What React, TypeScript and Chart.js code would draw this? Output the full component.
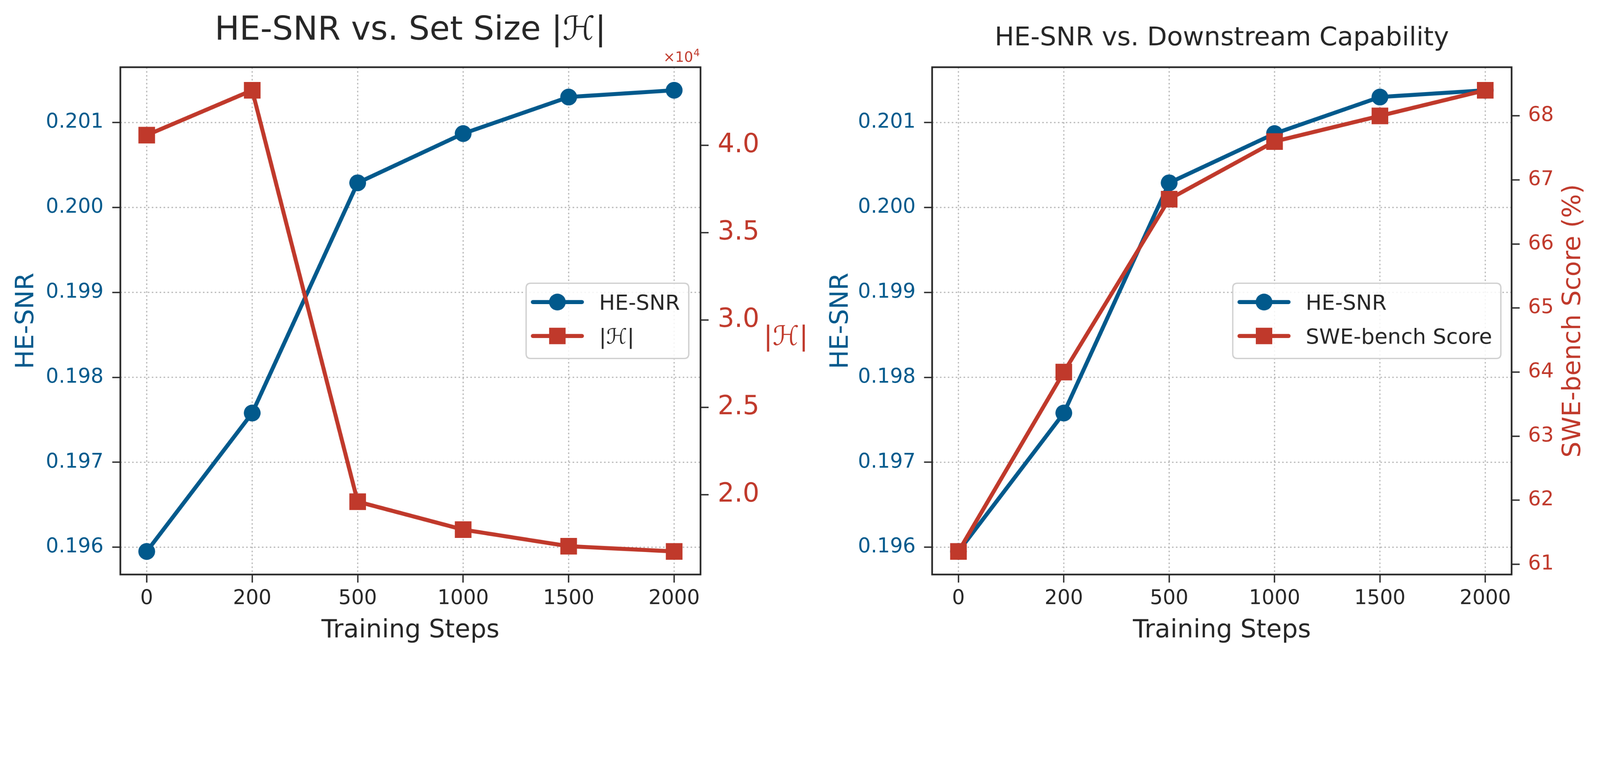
import React, { useEffect, useRef } from 'react';
import { Chart, registerables } from 'chart.js';

Chart.register(...registerables);

// ---------------- data ----------------
const steps = ['0', '200', '500', '1000', '1500', '2000'];
const heSnr = [0.19595, 0.19758, 0.20029, 0.20087, 0.2013, 0.20138];
const setSize = [40580, 43150, 19600, 18000, 17050, 16750];
const sweBench = [61.2, 64.0, 66.7, 67.6, 68.0, 68.4];

const heSnrTicks = [0.196, 0.197, 0.198, 0.199, 0.2, 0.201];
const setSizeTicks = [20000, 25000, 30000, 35000, 40000];
const sweTicks = [61, 62, 63, 64, 65, 66, 67, 68];

// ---------------- style ----------------
const BLUE = '#01598c';
const RED = '#c0392b';
const DARK = '#262626';
const GRID = '#b5b5b5';
const FAMILY = '"DejaVu Sans", "Noto Sans", sans-serif';
const f = (size: number, style = '') => `${style} ${size}px ${FAMILY}`.trim();
const LINE_W = 12;

const PAGE_W = 4760;
const PAGE_H = 1952;

const padRange = (vals: number[]) => {
  const lo = Math.min(...vals);
  const hi = Math.max(...vals);
  const r = hi - lo;
  return { min: lo - 0.05 * r, max: hi + 0.05 * r };
};

const toXY = (vals: number[]) => vals.map((v, i) => ({ x: i, y: v }));

function lineDataset(label: string, vals: number[], axis: string, color: string, style: string, order: number) {
  const r = style === 'rect' ? 35 : 25;
  return {
    label,
    data: toXY(vals),
    yAxisID: axis,
    borderColor: color,
    backgroundColor: color,
    borderWidth: LINE_W,
    borderCapStyle: 'round',
    borderJoinStyle: 'round',
    pointStyle: style,
    pointRadius: r,
    pointHoverRadius: r,
    pointBorderWidth: 0,
    pointBackgroundColor: color,
    tension: 0,
    order,
  };
}

function tickGrid() {
  return {
    display: true,
    drawOnChartArea: false,
    drawTicks: true,
    tickLength: 24,
    tickWidth: 4,
    tickColor: DARK,
  };
}

function xScale(height: number) {
  return {
    type: 'linear',
    min: -0.25,
    max: 5.25,
    afterBuildTicks: (s: any) => {
      s.ticks = steps.map((_, i) => ({ value: i }));
    },
    afterFit: (s: any) => {
      s.height = height;
    },
    ticks: {
      callback: (v: any) => steps[Math.round(v)],
      color: DARK,
      font: { family: FAMILY, size: 60 },
      padding: 12,
      maxRotation: 0,
      autoSkip: false,
    },
    grid: tickGrid(),
    border: { display: false },
  };
}

function yScale(position: string, vals: number[], ticks: number[], fmt: (v: number) => string, color: string, size: number, width: number, padding: number) {
  const r = padRange(vals);
  return {
    type: 'linear',
    position,
    min: r.min,
    max: r.max,
    afterBuildTicks: (s: any) => {
      s.ticks = ticks.map((t) => ({ value: t }));
    },
    afterFit: (s: any) => {
      s.width = width;
    },
    ticks: {
      callback: (v: any) => fmt(Number(v)),
      color,
      font: { family: FAMILY, size },
      padding,
      autoSkip: false,
    },
    grid: tickGrid(),
    border: { display: false },
  };
}

// ---------------- drawing helpers ----------------
function drawGrid(chart: any) {
  const { ctx, chartArea: a } = chart;
  const xs = chart.scales.x;
  const ys = chart.scales.y;
  ctx.save();
  ctx.strokeStyle = GRID;
  ctx.lineWidth = 3.5;
  ctx.setLineDash([4.5, 7.2]);
  steps.forEach((_, i) => {
    const px = xs.getPixelForValue(i);
    ctx.beginPath();
    ctx.moveTo(px, a.top);
    ctx.lineTo(px, a.bottom);
    ctx.stroke();
  });
  heSnrTicks.forEach((t) => {
    const py = ys.getPixelForValue(t);
    ctx.beginPath();
    ctx.moveTo(a.left, py);
    ctx.lineTo(a.right, py);
    ctx.stroke();
  });
  ctx.restore();
}

function drawFrame(chart: any) {
  const { ctx, chartArea: a } = chart;
  ctx.save();
  ctx.strokeStyle = DARK;
  ctx.lineWidth = 5;
  ctx.strokeRect(a.left, a.top, a.right - a.left, a.bottom - a.top);
  ctx.restore();
}

function roundRectPath(ctx: any, x: number, y: number, w: number, h: number, r: number) {
  ctx.beginPath();
  ctx.moveTo(x + r, y);
  ctx.lineTo(x + w - r, y);
  ctx.quadraticCurveTo(x + w, y, x + w, y + r);
  ctx.lineTo(x + w, y + h - r);
  ctx.quadraticCurveTo(x + w, y + h, x + w - r, y + h);
  ctx.lineTo(x + r, y + h);
  ctx.quadraticCurveTo(x, y + h, x, y + h - r);
  ctx.lineTo(x, y + r);
  ctx.quadraticCurveTo(x, y, x + r, y);
  ctx.closePath();
}

function drawLegend(chart: any, inset: number) {
  const { ctx, chartArea: a } = chart;
  const ds = chart.data.datasets;
  const fs = 63;
  ctx.save();
  ctx.font = f(fs);
  const textW = Math.max(...ds.map((d: any) => ctx.measureText(d.label).width));
  const padL = 20;
  const handle = 146;
  const gap = 51;
  const padR = 26;
  const w = padL + handle + gap + textW + padR;
  const h = 224;
  const right = a.right - inset;
  const left = right - w;
  const top = (a.top + a.bottom) / 2 - h / 2;
  roundRectPath(ctx, left, top, w, h, 14);
  ctx.fillStyle = 'rgba(255,255,255,0.85)';
  ctx.fill();
  ctx.strokeStyle = '#d0d0d0';
  ctx.lineWidth = 4;
  ctx.stroke();
  ds.forEach((d: any, i: number) => {
    const cy = top + 56 + i * 101;
    const x0 = left + padL;
    const x1 = x0 + handle;
    ctx.strokeStyle = d.borderColor;
    ctx.lineWidth = LINE_W;
    ctx.lineCap = 'round';
    ctx.beginPath();
    ctx.moveTo(x0, cy);
    ctx.lineTo(x1, cy);
    ctx.stroke();
    ctx.fillStyle = d.borderColor;
    const cx = (x0 + x1) / 2;
    if (d.pointStyle === 'rect') {
      ctx.fillRect(cx - 24.5, cy - 24.5, 49, 49);
    } else {
      ctx.beginPath();
      ctx.arc(cx, cy, 25, 0, Math.PI * 2);
      ctx.fill();
    }
    ctx.fillStyle = DARK;
    ctx.textAlign = 'left';
    ctx.textBaseline = 'alphabetic';
    ctx.fillText(d.label, x1 + gap, cy + (fs * 0.729) / 2);
  });
  ctx.restore();
}

function text(ctx: any, s: string, x: number, y: number, font: string, color: string, align = 'center', rot = 0) {
  ctx.save();
  ctx.font = font;
  ctx.fillStyle = color;
  ctx.textAlign = align;
  ctx.textBaseline = 'alphabetic';
  ctx.translate(x, y);
  if (rot) ctx.rotate(rot);
  ctx.fillText(s, 0, 0);
  ctx.restore();
}

// ---------------- plugins ----------------
const leftDeco = {
  id: 'leftDeco',
  beforeDatasetsDraw: (chart: any) => drawGrid(chart),
  afterDraw: (chart: any) => {
    const { ctx, chartArea: a } = chart;
    drawFrame(chart);
    const cx = (a.left + a.right) / 2;
    const cy = (a.top + a.bottom) / 2;
    text(ctx, 'HE-SNR vs. Set Size |ℋ|', cx, 118, f(98), DARK);
    text(ctx, 'Training Steps', cx, a.bottom + 187, f(75), DARK);
    text(ctx, 'HE-SNR', a.left - 259, cy, f(75), BLUE, 'center', -Math.PI / 2);
    text(ctx, '|ℋ|', a.right + 254, cy + 72, f(80), RED);
    ctx.save();
    ctx.font = f(30);
    const supW = ctx.measureText('4').width;
    ctx.restore();
    text(ctx, '4', a.right - 2, a.top - 33, f(30), RED, 'right');
    text(ctx, '×10', a.right - 2 - supW - 1, a.top - 16, f(42), RED, 'right');
    drawLegend(chart, 35);
  },
};

const rightDeco = {
  id: 'rightDeco',
  beforeDatasetsDraw: (chart: any) => drawGrid(chart),
  afterDraw: (chart: any) => {
    const { ctx, chartArea: a } = chart;
    drawFrame(chart);
    const cx = (a.left + a.right) / 2;
    const cy = (a.top + a.bottom) / 2;
    text(ctx, 'HE-SNR vs. Downstream Capability', cx, 135, f(77), DARK);
    text(ctx, 'Training Steps', cx, a.bottom + 187, f(75), DARK);
    text(ctx, 'HE-SNR', a.left - 251, cy, f(75), BLUE, 'center', -Math.PI / 2);
    text(ctx, 'SWE-bench Score (%)', a.right + 204, cy, f(75), RED, 'center', -Math.PI / 2);
    drawLegend(chart, 32);
  },
};

// ---------------- configs ----------------
function baseOptions(padLeft: number, padRight: number) {
  return {
    responsive: false,
    animation: false,
    devicePixelRatio: 1,
    events: [],
    layout: { padding: { top: 200, left: padLeft, right: padRight, bottom: 0 } },
    plugins: { legend: { display: false }, tooltip: { enabled: false }, title: { display: false } },
  };
}

function leftConfig(): any {
  return {
    type: 'line',
    data: {
      datasets: [
        lineDataset('HE-SNR', heSnr, 'y', BLUE, 'circle', 1),
        lineDataset('|ℋ|', setSize, 'y1', RED, 'rect', 0),
      ],
    },
    options: {
      ...baseOptions(0, PAGE_W - 2084 - 296),
      scales: {
        x: xScale(242),
        y: yScale('left', heSnr, heSnrTicks, (v) => v.toFixed(3), BLUE, 60, 358, 26),
        y1: yScale('right', setSize, setSizeTicks, (v) => (v / 10000).toFixed(1), RED, 78, 296, 27),
      },
    },
    plugins: [leftDeco],
  };
}

function rightConfig(): any {
  return {
    type: 'line',
    data: {
      datasets: [
        lineDataset('HE-SNR', heSnr, 'y', BLUE, 'circle', 1),
        lineDataset('SWE-bench Score', sweBench, 'y1', RED, 'rect', 0),
      ],
    },
    options: {
      ...baseOptions(2380, 0),
      scales: {
        x: xScale(242),
        y: yScale('left', heSnr, heSnrTicks, (v) => v.toFixed(3), BLUE, 60, 393, 25),
        y1: yScale('right', sweBench, sweTicks, (v) => String(Math.round(v)), RED, 60, 263, 25),
      },
    },
    plugins: [rightDeco],
  };
}

export default function App() {
  const leftRef = useRef<HTMLCanvasElement | null>(null);
  const rightRef = useRef<HTMLCanvasElement | null>(null);
  const scale = typeof window !== 'undefined' ? (window.innerWidth || PAGE_W) / PAGE_W : 1;
  const cssW = PAGE_W * scale;
  const cssH = PAGE_H * scale;

  useEffect(() => {
    document.body.style.margin = '0';
    document.body.style.overflow = 'hidden';
    document.body.style.background = '#ffffff';
    const c1 = new Chart(leftRef.current as HTMLCanvasElement, leftConfig());
    const c2 = new Chart(rightRef.current as HTMLCanvasElement, rightConfig());
    return () => {
      c1.destroy();
      c2.destroy();
    };
  }, []);

  const cStyle: any = { position: 'absolute', left: 0, top: 0, width: cssW, height: cssH, display: 'block' };
  return (
    <div style={{ position: 'relative', width: cssW, height: cssH, background: '#fff', overflow: 'hidden' }}>
      <canvas ref={leftRef} width={PAGE_W} height={PAGE_H} style={cStyle} />
      <canvas ref={rightRef} width={PAGE_W} height={PAGE_H} style={cStyle} />
    </div>
  );
}
